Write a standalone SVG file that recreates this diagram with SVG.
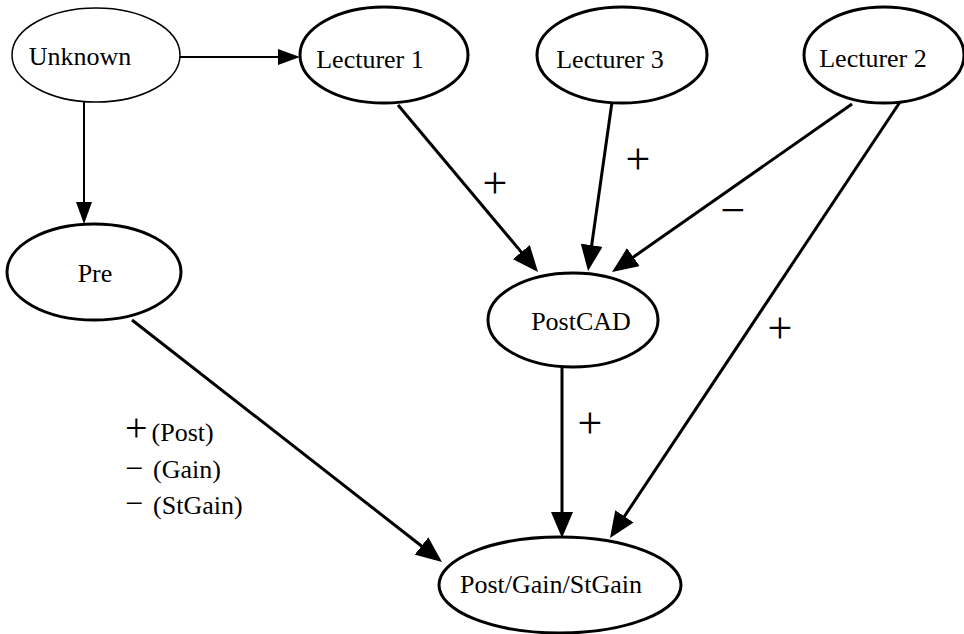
<svg xmlns="http://www.w3.org/2000/svg" width="964" height="634" viewBox="0 0 964 634">
<style>
.node{fill:#fff;stroke:#000;stroke-width:3}
.thin{stroke-width:1.5}
.lbl{font-family:"Liberation Serif","Times New Roman",serif;font-size:26px;fill:#000;text-anchor:middle}
.sign{font-family:"Liberation Serif","Times New Roman",serif;font-size:44px;fill:#000;text-anchor:middle}
.leg{font-family:"Liberation Serif","Times New Roman",serif;font-size:26px;fill:#000}
.ls{font-size:40px}
.lm{font-size:32px}
.edge{fill:none;stroke:#000;stroke-width:3}
.edge.t{stroke-width:2}
</style>
<defs>
<marker id="ah" viewBox="0 0 26 22" refX="2" refY="11" markerWidth="26" markerHeight="22" markerUnits="userSpaceOnUse" orient="auto">
<path d="M0,0 L26,11 L0,22 z" fill="#000"/>
</marker>
<marker id="aht" viewBox="0 0 22 16" refX="2" refY="8" markerWidth="22" markerHeight="16" markerUnits="userSpaceOnUse" orient="auto">
<path d="M0,0 L22,8 L0,16 z" fill="#000"/>
</marker>
</defs>
<rect width="964" height="634" fill="#fff"/>
<g id="connectors">
<path class="edge t" d="M180,57 L280,57" marker-end="url(#aht)"/>
<path class="edge t" d="M84,102 L84,204" marker-end="url(#aht)"/>
<path class="edge" d="M398,105 L522.6,253.6" marker-end="url(#ah)"/>
<path class="edge" d="M612,102 L591.4,247.2" marker-end="url(#ah)"/>
<path class="edge" d="M852,104 L631.7,258.2" marker-end="url(#ah)"/>
<path class="edge" d="M900,102 L623.3,518" marker-end="url(#ah)"/>
<path class="edge" d="M562,367 L562,514" marker-end="url(#ah)"/>
<path class="edge" d="M132,320 L423.1,547.2" marker-end="url(#ah)"/>
<text class="sign" x="495" y="198">+</text>
<text class="sign" x="638" y="174">+</text>
<text class="sign" x="733" y="225">−</text>
<text class="sign" x="780" y="343">+</text>
<text class="sign" x="590" y="438">+</text>
</g>
<g id="unknown"><ellipse class="node thin" cx="96" cy="55" rx="84" ry="47"/><text class="lbl" x="80" y="65">Unknown</text></g>
<g id="lecturer1"><ellipse class="node" cx="384" cy="55" rx="84" ry="48"/><text class="lbl" x="370" y="68">Lecturer 1</text></g>
<g id="lecturer3"><ellipse class="node" cx="622" cy="55" rx="85" ry="48"/><text class="lbl" x="610" y="68">Lecturer 3</text></g>
<g id="lecturer2"><ellipse class="node" cx="884" cy="55" rx="80" ry="48"/><text class="lbl" x="873" y="67">Lecturer 2</text></g>
<g id="pre"><ellipse class="node" cx="94" cy="272" rx="87" ry="48"/><text class="lbl" x="95" y="282">Pre</text></g>
<g id="postcad"><ellipse class="node" cx="573" cy="320" rx="85" ry="47"/><text class="lbl" x="581" y="330">PostCAD</text></g>
<g id="post"><ellipse class="node" cx="560" cy="585" rx="121" ry="48"/><text class="lbl" x="551" y="593">Post/Gain/StGain</text></g>
<g id="legend">
<text class="leg" x="125" y="441"><tspan class="ls">+</tspan><tspan dx="4">(Post)</tspan></text>
<text class="leg" x="125" y="479"><tspan class="lm">−</tspan><tspan dx="10" dy="-1">(Gain)</tspan></text>
<text class="leg" x="125" y="514"><tspan class="lm">−</tspan><tspan dx="10" dy="0">(StGain)</tspan></text>
</g>
</svg>
